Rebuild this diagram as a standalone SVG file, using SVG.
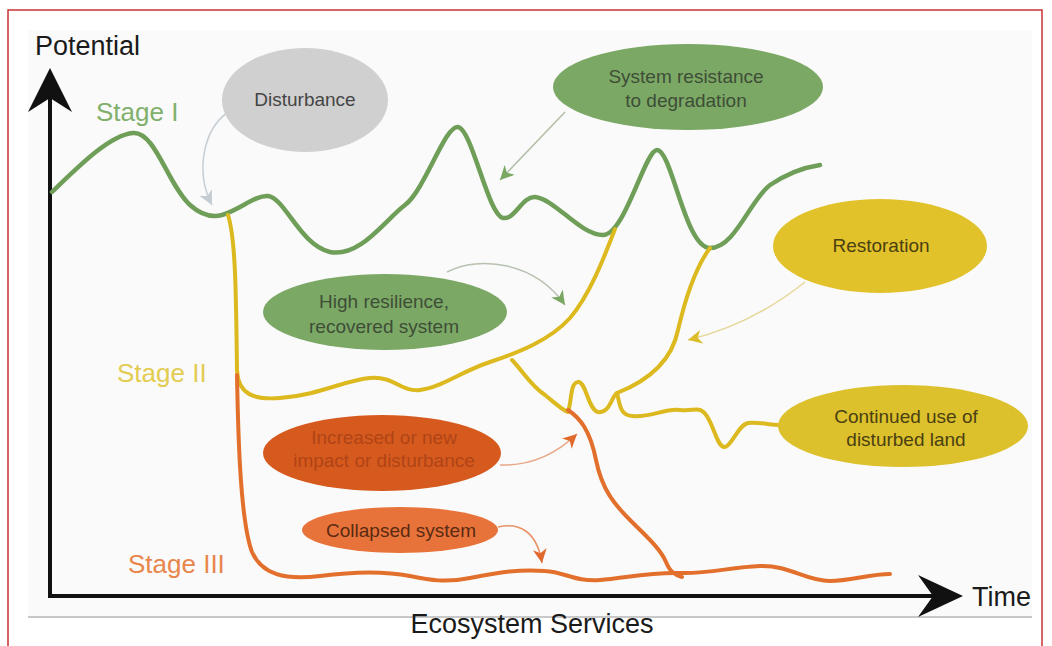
<svg xmlns="http://www.w3.org/2000/svg" width="1052" height="646" viewBox="0 0 1052 646">
<style>
  text { font-family: "Liberation Sans", Arial, sans-serif; }
  .ax { font-size: 27px; fill: #1a1a1a; }
  .stage { font-size: 26px; }
  .lbl { font-size: 19px; text-anchor: middle; }
  .curve { fill: none; stroke-linecap: round; stroke-linejoin: round; }
  .g { stroke: #6f9e58; stroke-width: 4.5; }
  .y { stroke: #dcb91e; stroke-width: 4; }
  .o { stroke: #e2702c; stroke-width: 4; }
  .conn { fill: none; stroke-width: 1.6; }
</style>
<defs>
  <marker id="mGrey" markerUnits="userSpaceOnUse" markerWidth="16" markerHeight="16" refX="14" refY="7" orient="auto"><path d="M0,0 L14,7 L0,14 L4,7 z" fill="#c4ccd2"/></marker>
  <marker id="mGreen" markerUnits="userSpaceOnUse" markerWidth="16" markerHeight="16" refX="14" refY="7" orient="auto"><path d="M0,0 L14,7 L0,14 L4,7 z" fill="#7aa863"/></marker>
  <marker id="mYellow" markerUnits="userSpaceOnUse" markerWidth="16" markerHeight="16" refX="14" refY="7" orient="auto"><path d="M0,0 L14,7 L0,14 L4,7 z" fill="#dcbc2a"/></marker>
  <marker id="mOrange" markerUnits="userSpaceOnUse" markerWidth="16" markerHeight="16" refX="14" refY="7" orient="auto"><path d="M0,0 L14,7 L0,14 L4,7 z" fill="#e06a2c"/></marker>
</defs>

<rect x="0" y="0" width="1052" height="646" fill="#ffffff"/>
<path d="M8,646 L8,10 L1042,10 L1042,646" fill="none" stroke="#cc3333" stroke-width="1.5"/>
<rect x="28" y="30" width="1004" height="587" fill="#fafafa"/>
<line x1="28" y1="617" x2="1032" y2="617" stroke="#c8c8c8" stroke-width="2"/>

<g id="axes">
  <line x1="50" y1="96" x2="50" y2="597" stroke="#111" stroke-width="4"/>
  <polygon points="50,68 72,112 50,98 28,112" fill="#111"/>
  <line x1="48" y1="596" x2="935" y2="596" stroke="#111" stroke-width="4"/>
  <polygon points="963,596 918,575 933,596 918,617" fill="#111"/>
  <text class="ax" x="35" y="55">Potential</text>
  <text class="ax" x="972" y="606">Time</text>
  <text class="ax" x="532" y="633" text-anchor="middle" font-size="28">Ecosystem Services</text>
</g>

<g id="curves">
  <path class="curve g" d="M52,192 C80,165 110,135 133,133 C155,131 168,185 190,205 C200,214 210,218 222,215 C240,210 255,195 268,196 C285,198 300,245 330,252 C360,258 385,220 405,205 C425,190 445,125 458,127 C472,129 488,215 503,218 C515,220 522,196 535,197 C555,199 580,235 603,235 C625,235 645,150 657,150 C672,150 685,248 710,248 C735,248 750,200 770,185 C785,175 800,168 820,165"/>
  <path class="curve y" d="M228,215 C236,240 236,300 237,370 C238,395 255,400 280,398 C320,395 345,380 370,378 C395,376 400,392 420,390 C440,388 460,372 490,362 C520,352 550,340 570,318 C590,295 605,255 615,229"/>
  <path class="curve y" d="M512,360 C522,370 530,385 545,395 C555,403 562,410 568,412 C572,400 570,383 578,382 C586,381 588,410 598,412 C610,414 612,395 617,393 C620,405 620,415 632,416 C650,418 665,408 680,410 C695,412 700,404 708,418 C715,430 718,448 725,447 C732,446 738,425 748,423 C760,422 770,425 780,425"/>
  <path class="curve y" d="M710,248 C695,268 685,300 678,330 C672,360 650,380 617,393"/>
  <path class="curve o" d="M237,375 C238,430 240,520 252,552 C262,575 285,580 320,576 C350,572 380,570 410,576 C430,580 445,583 470,578 C500,572 520,569 545,571 C565,572 575,582 600,580 C625,578 650,572 680,573 C710,574 730,567 760,566 C790,565 805,581 830,581 C850,581 870,574 890,574"/>
  <path class="curve o" d="M568,410 C580,418 590,430 596,460 C602,490 615,505 630,520 C645,535 660,548 666,562 C670,572 675,575 682,577"/>
  <text class="stage" x="96" y="121" fill="#80b06c">Stage I</text>
  <text class="stage" x="117" y="382" fill="#e2cc52">Stage II</text>
  <text class="stage" x="128" y="573" fill="#e8864c">Stage III</text>
</g>

<g id="connectors">
  <path class="conn" stroke="#c8d0d6" d="M228,112 C203,130 195,172 212,205" marker-end="url(#mGrey)"/>
  <path class="conn" stroke="#b2bfa8" d="M565,112 L500,180" marker-end="url(#mGreen)"/>
  <path class="conn" stroke="#b8c2b2" d="M447,272 C480,255 535,262 565,305" marker-end="url(#mGreen)"/>
  <path class="conn" stroke="#e6d89a" d="M805,282 C770,310 730,330 688,340" marker-end="url(#mYellow)"/>
  <path class="conn" stroke="#e8a888" d="M500,465 C530,466 555,455 577,434" marker-end="url(#mOrange)"/>
  <path class="conn" stroke="#e89468" d="M498,527 C520,522 537,532 542,563" marker-end="url(#mOrange)"/>
</g>

<g id="disturbance">
  <ellipse cx="305" cy="100" rx="83" ry="52" fill="#d0d0d0"/>
  <text class="lbl" x="305" y="106" fill="#454545">Disturbance</text>
</g>
<g id="resistance">
  <ellipse cx="688" cy="87" rx="135" ry="43" fill="#7ca866"/>
  <text class="lbl" x="686" y="83" fill="#3e4e36">System resistance</text>
  <text class="lbl" x="686" y="107" fill="#3e4e36">to degradation</text>
</g>
<g id="resilience">
  <ellipse cx="385" cy="312" rx="122" ry="38" fill="#7ca866"/>
  <text class="lbl" x="384" y="308" fill="#3e4e36">High resilience,</text>
  <text class="lbl" x="384" y="333" fill="#3e4e36">recovered system</text>
</g>
<g id="restoration">
  <ellipse cx="880" cy="246" rx="107" ry="47" fill="#e2c22a"/>
  <text class="lbl" x="881" y="252" fill="#4a4012">Restoration</text>
</g>
<g id="continued">
  <ellipse cx="903" cy="426" rx="125" ry="41" fill="#dcc02c"/>
  <text class="lbl" x="906" y="423" fill="#4a4012">Continued use of</text>
  <text class="lbl" x="906" y="446" fill="#4a4012">disturbed land</text>
</g>
<g id="increased">
  <ellipse cx="382" cy="453" rx="119" ry="38" fill="#d65a1e"/>
  <text class="lbl" x="384" y="444" fill="#b04416">Increased or new</text>
  <text class="lbl" x="384" y="467" fill="#b04416">impact or disturbance</text>
</g>
<g id="collapsed">
  <ellipse cx="400" cy="530" rx="98" ry="23" fill="#e8733a"/>
  <text class="lbl" x="401" y="537" fill="#5a2a12">Collapsed system</text>
</g>
</svg>
